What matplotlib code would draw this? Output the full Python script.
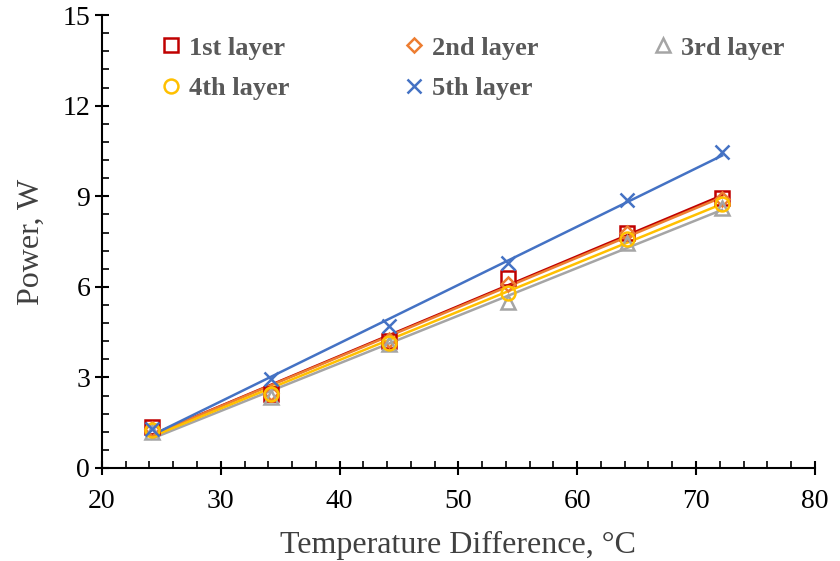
import numpy as np
import matplotlib
matplotlib.use('Agg')
from matplotlib import pyplot as plt
from matplotlib.ticker import MultipleLocator

plt.rcParams['font.family'] = ['Liberation Serif', 'DejaVu Serif']

# 数据
temp_diff = [24.2, 34.2, 44.2, 54.2, 64.2, 72.2]
layer1 = [1.35, 2.45, 4.20, 6.30, 7.80, 8.95]
layer2 = [1.30, 2.50, 4.25, 6.10, 7.80, 8.90]
layer3 = [1.20, 2.35, 4.10, 5.50, 7.45, 8.60]
layer4 = [1.25, 2.45, 4.15, 5.80, 7.60, 8.75]
layer5 = [1.30, 2.95, 4.70, 6.80, 8.87, 10.46]
labels = ['1st layer', '2nd layer', '3rd layer', '4th layer', '5th layer']

colors = ['#C00000', '#ED7D31', '#A5A5A5', '#FFC000', '#4472C4']
markers = ['s', 'D', '^', 'o', 'x']
msizes = [10, 7, 10, 10, 10]

fig = plt.figure(figsize=(8.4, 5.61), dpi=100)
ax = fig.add_axes([0.1214, 0.1658, 0.8486, 0.8072])

x = np.array(temp_diff)
handles = []
for y, c, m, ms, lab in zip([layer1, layer2, layer3, layer4, layer5], colors, markers, msizes, labels):
    # 趋势线
    k, b = np.polyfit(x, y, 1)
    ax.plot(x, k * x + b, color=c, lw=1.8, zorder=2)
    if m == 'x':
        h, = ax.plot(x, y, ls='none', marker=m, ms=ms, mew=1.8, color=c, label=lab, zorder=3)
    else:
        h, = ax.plot(x, y, ls='none', marker=m, ms=ms, mew=1.8, mfc='none', mec=c, label=lab, zorder=3)
    handles.append(h)

ax.set_xlim(20, 80)
ax.set_ylim(0, 15)
ax.xaxis.set_major_locator(MultipleLocator(10))
ax.xaxis.set_minor_locator(MultipleLocator(2))
ax.yaxis.set_major_locator(MultipleLocator(3))
ax.yaxis.set_minor_locator(MultipleLocator(0.6))
ax.tick_params(which='major', direction='inout', length=10, width=1.5, labelsize=20, colors='black')
ax.tick_params(which='minor', direction='in', length=5, width=1.2)
ax.tick_params(axis='x', pad=10)
ax.spines['top'].set_visible(False)
ax.spines['right'].set_visible(False)
ax.spines['left'].set_linewidth(1.5)
ax.spines['bottom'].set_linewidth(1.5)

ax.set_xlabel('Temperature Difference, °C', fontsize=23, color='#404040', labelpad=12)
ax.set_ylabel('Power, W', fontsize=23, color='#404040', labelpad=12)

order = [0, 3, 1, 4, 2]
leg = ax.legend([handles[i] for i in order], [labels[i] for i in order], ncol=3,
                loc='upper left', bbox_to_anchor=(0.067, 0.977), frameon=False,
                prop={'weight': 'bold', 'size': 19}, handlelength=0.8, handletextpad=0.3,
                columnspacing=4.3, labelspacing=0.65, borderaxespad=0)
for t in leg.get_texts():
    t.set_color('#595959')

fig.savefig('out.png', dpi=100)
